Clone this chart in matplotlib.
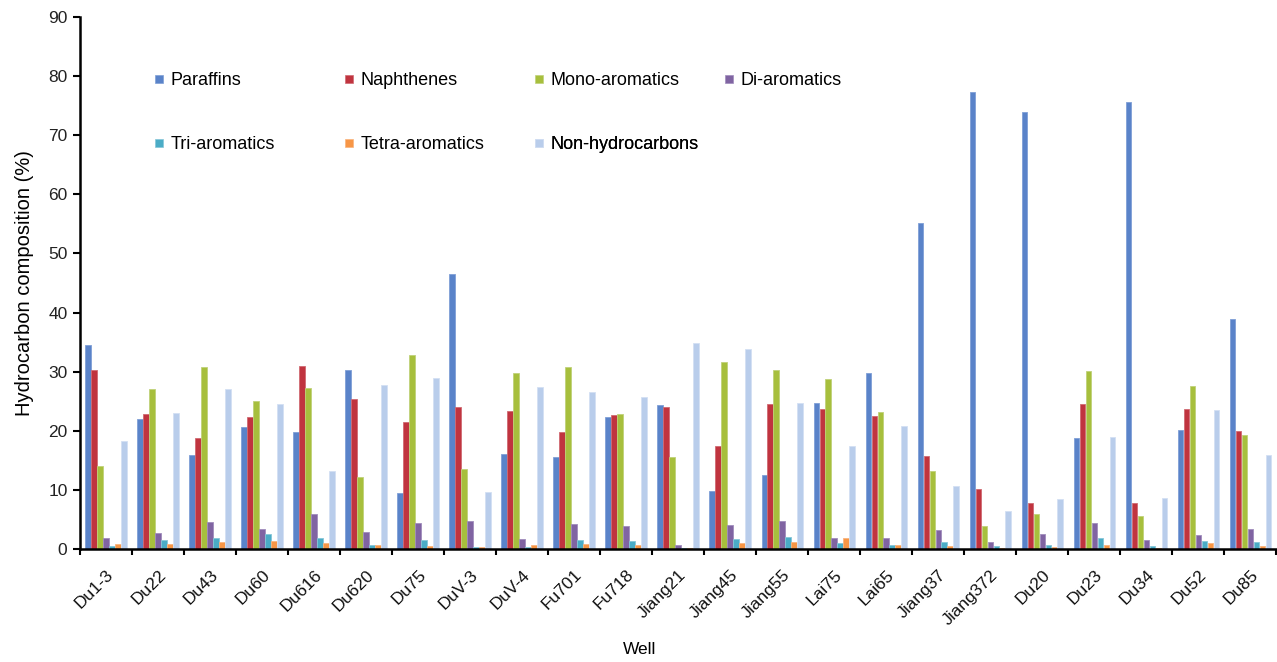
import numpy as np
import matplotlib
matplotlib.use("Agg")
import matplotlib.pyplot as plt
import matplotlib.transforms as mtransforms
from matplotlib.lines import Line2D

plt.rcParams['font.family'] = ['Liberation Sans', 'DejaVu Sans']

# donnees
wells = ["Du1-3", "Du22", "Du43", "Du60", "Du616", "Du620", "Du75", "DuV-3",
         "DuV-4", "Fu701", "Fu718", "Jiang21", "Jiang45", "Jiang55", "Lai75",
         "Lai65", "Jiang37", "Jiang372", "Du20", "Du23", "Du34", "Du52", "Du85"]

paraffins = [34.5, 22.0, 15.9, 20.6, 19.8, 30.3, 9.5, 46.6, 16.0, 15.6, 22.4, 24.3,
             9.8, 12.6, 24.7, 29.7, 55.2, 77.3, 74.0, 18.7, 75.6, 20.2, 38.9]
naphthenes = [30.3, 22.9, 18.7, 22.4, 30.9, 25.3, 21.5, 24.0, 23.3, 19.8, 22.6, 24.1,
              17.4, 24.5, 23.6, 22.5, 15.7, 10.1, 7.7, 24.5, 7.8, 23.7, 19.9]
mono_arom = [14.0, 27.1, 30.8, 25.1, 27.2, 12.1, 32.9, 13.6, 29.7, 30.8, 22.9, 15.6,
             31.6, 30.2, 28.7, 23.2, 13.2, 3.9, 6.0, 30.1, 5.5, 27.5, 19.3]
di_arom = [1.9, 2.7, 4.5, 3.3, 5.9, 2.8, 4.4, 4.8, 1.7, 4.2, 3.9, 0.6,
           4.1, 4.7, 1.9, 1.9, 3.2, 1.2, 2.5, 4.4, 1.6, 2.3, 3.4]
tri_arom = [0.5, 1.6, 1.9, 2.5, 1.9, 0.6, 1.6, 0.3, 0.4, 1.5, 1.3, 0.1,
            1.7, 2.1, 1.0, 0.6, 1.2, 0.5, 0.6, 1.9, 0.5, 1.4, 1.2]
tetra_arom = [0.8, 0.9, 1.1, 1.4, 1.0, 0.7, 0.5, 0.4, 0.6, 0.9, 0.7, 0.2,
              1.0, 1.1, 1.9, 0.7, 0.5, 0.2, 0.3, 0.6, 0.1, 1.0, 0.5]
non_hc = [18.2, 23.0, 27.0, 24.5, 13.2, 27.8, 29.0, 9.6, 27.4, 26.6, 25.7, 34.8,
          33.9, 24.7, 17.5, 20.8, 10.6, 6.4, 8.4, 19.0, 8.6, 23.5, 15.9]

series = [paraffins, naphthenes, mono_arom, di_arom, tri_arom, tetra_arom, non_hc]
names = ["Paraffins", "Naphthenes", "Mono-aromatics", "Di-aromatics",
         "Tri-aromatics", "Tetra-aromatics", "Non-hydrocarbons"]
couleurs = ["#5a83c9", "#c0343f", "#a7bf3d", "#8064a2", "#4bacc6", "#f79646", "#b9cdeb"]
bords = ["#7f9fd6", "#d06a72", "#c0d27a", "#a08cbc", "#86c6d8", "#f9b47e", "#d3e0f3"]

# programme principal
if __name__ == "__main__":
    fig = plt.figure(figsize=(12.77, 6.62), dpi=100)
    ax = fig.add_axes([80/1277, 1-549/662, 1-80/1277 - 0.0005, (549-17)/662])

    n = len(wells)
    x = np.arange(n) + 0.5
    w = 0.115
    for k, vals in enumerate(series):
        ax.bar(x + (k - 3) * w, vals, width=w*0.92, color=couleurs[k],
               edgecolor=bords[k], linewidth=0.6)

    ax.set_xlim(0, n)
    ax.set_ylim(0, 90)
    ax.set_yticks(np.arange(0, 91, 10))
    ax.set_xticks(np.arange(0, n + 1), minor=False)
    ax.set_xticklabels([])
    ax.set_xticks(x, minor=True)
    ax.set_xticklabels(wells, minor=True, rotation=45, ha='right',
                       rotation_mode='anchor', fontsize=12.5, color='#111')
    # decalage des etiquettes vers la droite
    decal = mtransforms.ScaledTranslation(8/100, 0, fig.dpi_scale_trans)
    for lab in ax.get_xticklabels(minor=True):
        lab.set_transform(lab.get_transform() + decal)
    ax.tick_params(axis='x', which='minor', length=0, pad=13)
    ax.tick_params(axis='x', which='major', length=4, width=1.5, direction='out')
    ax.tick_params(axis='y', length=5, width=1.5, direction='out', pad=4,
                   labelsize=12.5, labelcolor='#222')

    for s in ['top', 'right']:
        ax.spines[s].set_visible(False)
    for s in ['left', 'bottom']:
        ax.spines[s].set_linewidth(1.8)

    ax.set_ylabel("Hydrocarbon composition (%)", fontsize=14.5, labelpad=10)
    fig.text(640/1277, 1-650/662, "Well", ha='center', va='center', fontsize=12.5)

    # legende : 4 colonnes, 2 lignes
    for k, nom in enumerate(names):
        col = k % 4
        row = k // 4
        xl = (154 + 190*col) / 1277
        yl = 1 - (72 + 64*row) / 662
        poignee = Line2D([], [], marker='s', linestyle='none', markersize=5.5,
                         markerfacecolor=couleurs[k], markeredgecolor=bords[k],
                         markeredgewidth=0.5)
        leg = ax.legend(handles=[poignee], labels=[nom], loc='upper left',
                        bbox_to_anchor=(xl, yl), bbox_transform=fig.transFigure,
                        frameon=False, fontsize=13, handlelength=0.6,
                        handletextpad=0.34, borderpad=0, borderaxespad=0)
        ax.add_artist(leg)

    plt.savefig("out.png", dpi=100)
